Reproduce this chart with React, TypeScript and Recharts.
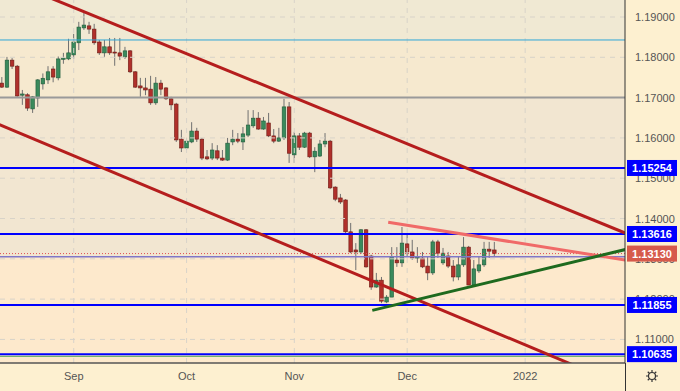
import React from "react";
import { ComposedChart, Bar, XAxis, YAxis, ReferenceLine, ReferenceArea } from "recharts";

// EUR/USD daily, Aug 12 - Dec 24 2021
const dates = [
  "2021-08-12", "2021-08-13", "2021-08-16", "2021-08-17", "2021-08-18", "2021-08-19", "2021-08-20",
  "2021-08-23", "2021-08-24", "2021-08-25", "2021-08-26", "2021-08-27", "2021-08-30", "2021-08-31",
  "2021-09-01", "2021-09-02", "2021-09-03", "2021-09-06", "2021-09-07", "2021-09-08", "2021-09-09",
  "2021-09-10", "2021-09-13", "2021-09-14", "2021-09-15", "2021-09-16", "2021-09-17", "2021-09-20",
  "2021-09-21", "2021-09-22", "2021-09-23", "2021-09-24", "2021-09-27", "2021-09-28", "2021-09-29",
  "2021-09-30", "2021-10-01", "2021-10-04", "2021-10-05", "2021-10-06", "2021-10-07", "2021-10-08",
  "2021-10-11", "2021-10-12", "2021-10-13", "2021-10-14", "2021-10-15", "2021-10-18", "2021-10-19",
  "2021-10-20", "2021-10-21", "2021-10-22", "2021-10-25", "2021-10-26", "2021-10-27", "2021-10-28",
  "2021-10-29", "2021-11-01", "2021-11-02", "2021-11-03", "2021-11-04", "2021-11-05", "2021-11-08",
  "2021-11-09", "2021-11-10", "2021-11-11", "2021-11-12", "2021-11-15", "2021-11-16", "2021-11-17",
  "2021-11-18", "2021-11-19", "2021-11-22", "2021-11-23", "2021-11-24", "2021-11-25", "2021-11-26",
  "2021-11-29", "2021-11-30", "2021-12-01", "2021-12-02", "2021-12-03", "2021-12-06", "2021-12-07",
  "2021-12-08", "2021-12-09", "2021-12-10", "2021-12-13", "2021-12-14", "2021-12-15", "2021-12-16",
  "2021-12-17", "2021-12-20", "2021-12-21", "2021-12-22", "2021-12-23", "2021-12-24",
];

const opens = [
  1.1736, 1.1726, 1.1793, 1.1778, 1.1706, 1.1707, 1.1672, 1.1699, 1.1734, 1.1744,
  1.1771, 1.1749, 1.1795, 1.1796, 1.1806, 1.1836, 1.1873, 1.1878, 1.1870, 1.1838,
  1.1811, 1.1826, 1.1813, 1.1811, 1.1801, 1.1816, 1.1764, 1.1729, 1.1724, 1.1721,
  1.1687, 1.1736, 1.1724, 1.1697, 1.1684, 1.1597, 1.1575, 1.1590, 1.1617, 1.1597,
  1.1553, 1.1550, 1.1568, 1.1550, 1.1545, 1.1590, 1.1597, 1.1590, 1.1607, 1.1630,
  1.1649, 1.1622, 1.1637, 1.1605, 1.1592, 1.1600, 1.1677, 1.1558, 1.1605, 1.1577,
  1.1612, 1.1553, 1.1555, 1.1585, 1.1592, 1.1478, 1.1451, 1.1446, 1.1367, 1.1322,
  1.1317, 1.1372, 1.1307, 1.1230, 1.1247, 1.1193, 1.1205, 1.1297, 1.1290, 1.1337,
  1.1317, 1.1302, 1.1302, 1.1282, 1.1265, 1.1342, 1.1290, 1.1307, 1.1282, 1.1255,
  1.1285, 1.1329, 1.1235, 1.1270, 1.1285, 1.1324, 1.1322,
];

const highs = [
  1.1751, 1.1801, 1.1798, 1.1781, 1.1719, 1.1711, 1.1704, 1.1746, 1.1760, 1.1778,
  1.1778, 1.1802, 1.1811, 1.1846, 1.1858, 1.1888, 1.1910, 1.1888, 1.1883, 1.1843,
  1.1843, 1.1848, 1.1848, 1.1848, 1.1826, 1.1818, 1.1766, 1.1749, 1.1749, 1.1754,
  1.1751, 1.1744, 1.1726, 1.1702, 1.1687, 1.1620, 1.1600, 1.1639, 1.1625, 1.1600,
  1.1570, 1.1587, 1.1582, 1.1570, 1.1600, 1.1620, 1.1612, 1.1627, 1.1669, 1.1669,
  1.1664, 1.1652, 1.1662, 1.1622, 1.1625, 1.1697, 1.1689, 1.1615, 1.1612, 1.1615,
  1.1615, 1.1577, 1.1595, 1.1612, 1.1595, 1.1480, 1.1461, 1.1448, 1.1389, 1.1339,
  1.1374, 1.1374, 1.1310, 1.1265, 1.1255, 1.1210, 1.1329, 1.1329, 1.1379, 1.1364,
  1.1347, 1.1329, 1.1317, 1.1305, 1.1347, 1.1347, 1.1327, 1.1317, 1.1297, 1.1305,
  1.1354, 1.1332, 1.1297, 1.1305, 1.1342, 1.1342, 1.1342,
];

const lows = [
  1.1724, 1.1724, 1.1771, 1.1702, 1.1682, 1.1667, 1.1662, 1.1677, 1.1720, 1.1734,
  1.1738, 1.1743, 1.1784, 1.1793, 1.1796, 1.1818, 1.1868, 1.1858, 1.1831, 1.1806,
  1.1801, 1.1806, 1.1779, 1.1793, 1.1796, 1.1761, 1.1724, 1.1702, 1.1706, 1.1682,
  1.1682, 1.1706, 1.1694, 1.1669, 1.1590, 1.1565, 1.1570, 1.1587, 1.1590, 1.1545,
  1.1545, 1.1545, 1.1545, 1.1543, 1.1543, 1.1582, 1.1587, 1.1570, 1.1602, 1.1625,
  1.1620, 1.1620, 1.1602, 1.1587, 1.1590, 1.1595, 1.1538, 1.1538, 1.1570, 1.1575,
  1.1550, 1.1515, 1.1553, 1.1577, 1.1473, 1.1443, 1.1436, 1.1364, 1.1314, 1.1272,
  1.1312, 1.1278, 1.1223, 1.1228, 1.1190, 1.1190, 1.1205, 1.1280, 1.1280, 1.1307,
  1.1297, 1.1290, 1.1277, 1.1247, 1.1260, 1.1302, 1.1285, 1.1277, 1.1244, 1.1247,
  1.1280, 1.1235, 1.1230, 1.1265, 1.1280, 1.1302, 1.1305,
];

const closes = [
  1.1726, 1.1793, 1.1778, 1.1704, 1.1709, 1.1674, 1.1702, 1.1744, 1.1748, 1.1764,
  1.1751, 1.1796, 1.1798, 1.1811, 1.1838, 1.1875, 1.1880, 1.1870, 1.1836, 1.1811,
  1.1826, 1.1811, 1.1811, 1.1803, 1.1816, 1.1764, 1.1726, 1.1724, 1.1719, 1.1687,
  1.1736, 1.1721, 1.1697, 1.1682, 1.1595, 1.1575, 1.1592, 1.1617, 1.1597, 1.1550,
  1.1548, 1.1570, 1.1550, 1.1545, 1.1587, 1.1597, 1.1592, 1.1610, 1.1632, 1.1649,
  1.1622, 1.1642, 1.1605, 1.1592, 1.1600, 1.1677, 1.1562, 1.1605, 1.1577, 1.1612,
  1.1553, 1.1567, 1.1585, 1.1592, 1.1476, 1.1448, 1.1441, 1.1367, 1.1317, 1.1317,
  1.1372, 1.1280, 1.1230, 1.1247, 1.1195, 1.1205, 1.1305, 1.1290, 1.1339, 1.1317,
  1.1302, 1.1305, 1.1280, 1.1265, 1.1342, 1.1314, 1.1314, 1.1282, 1.1255, 1.1285,
  1.1329, 1.1235, 1.1275, 1.1285, 1.1324, 1.1319, 1.1313,
];

// x axis: bar index, months start at these bars
const monthTicks = [14, 36, 57, 79, 102];
const monthLabels = ["Sep", "Oct", "Nov", "Dec", "2022"];

const priceTicks = [1.11, 1.12, 1.13, 1.14, 1.15, 1.16, 1.17, 1.18, 1.19];
const blueLevels = [1.15254, 1.13616, 1.11855, 1.10635];
const lastPrice = 1.1313;
const cyanLevel = 1.1843;
const grayLevel = 1.17;
const violetLevel = 1.1305;
const greenLevel = 1.1058;

// trend lines: [bar index, price] pairs
const trendLines = [
  { a: [-10.1, 1.2049], b: [121.5, 1.1364], color: "#b51d1d" },
  { a: [-4.3, 1.1653], b: [124.4, 1.0967], color: "#b51d1d" },
  { a: [75.3, 1.1391], b: [121.5, 1.1297], color: "#f06a68" },
  { a: [72.2, 1.1172], b: [121.5, 1.1323], color: "#1e6a1e" },
];

const data = dates.map((d, i) => ({
  i,
  date: d,
  open: opens[i],
  high: highs[i],
  low: lows[i],
  close: closes[i],
  range: [lows[i], highs[i]],
}));

const xDomain = [-0.37, 121.46];
const yDomain = [1.10415, 1.19422];

const Candle = (props: any) => {
  const { x, y, width, height, payload } = props;
  if (!payload || payload.open == null) return null;
  const { open, close, high, low } = payload;
  const top = Math.min(y, y + height);
  const h = Math.abs(height);
  const ratio = h / (high - low);
  const cx = x + width / 2;
  const up = close >= open;
  const bTop = top + (high - Math.max(open, close)) * ratio;
  const bBot = top + (high - Math.min(open, close)) * ratio;
  return (
    <g>
      <line x1={cx} x2={cx} y1={top} y2={top + h} stroke="#707070" strokeWidth={1} />
      <rect
        x={cx - 1.8}
        y={bTop}
        width={3.6}
        height={Math.max(1, bBot - bTop)}
        fill={up ? "#3a8a5c" : "#b0302b"}
        stroke={up ? "#1f5a3a" : "#6e1a14"}
        strokeWidth={0.6}
      />
    </g>
  );
};

const PriceTick = (props: any) => {
  const { y, payload } = props;
  const v = payload.value;
  const isBox = blueLevels.includes(v) || v === lastPrice;
  if (isBox) {
    return (
      <g>
        <rect x={627} y={y - 8} width={50} height={16} fill={v === lastPrice ? "#d65a4b" : "#0000ff"} />
        <text x={652} y={y + 4} textAnchor="middle" fill="#fff" fontSize={11} fontWeight="bold">
          {v.toFixed(5)}
        </text>
      </g>
    );
  }
  return (
    <text x={635} y={y + 4} fill="#555" fontSize={11}>
      {v.toFixed(5)}
    </text>
  );
};

const MonthTick = (props: any) => {
  const { x, payload } = props;
  const idx = monthTicks.indexOf(payload.value);
  return (
    <text x={x} y={380} textAnchor="middle" fill="#555" fontSize={11}>
      {monthLabels[idx]}
    </text>
  );
};

export default function App() {
  return (
    <div
      style={{
        position: "absolute",
        left: 0,
        top: 0,
        width: 680,
        height: 391,
        background: "#fdf0d0",
        fontFamily: "'Liberation Sans', Arial, sans-serif",
      }}
    >
      <ComposedChart width={680} height={391} data={data} margin={{ top: 0, right: 0, bottom: 0, left: 0 }}>
        <XAxis
          type="number"
          dataKey="i"
          domain={xDomain}
          allowDataOverflow
          ticks={monthTicks}
          interval={0}
          tick={<MonthTick />}
          tickLine={false}
          axisLine={{ stroke: "#555", strokeWidth: 1.5 }}
          height={28}
        />
        <YAxis
          orientation="right"
          domain={yDomain}
          allowDataOverflow
          ticks={[...priceTicks, ...blueLevels, lastPrice]}
          interval={0}
          tick={<PriceTick />}
          tickLine={false}
          axisLine={{ stroke: "#333" }}
          width={55}
        />

        {/* background bands */}
        <ReferenceArea y1={cyanLevel} y2={yDomain[1]} fill="#f0e9d3" fillOpacity={1} stroke="none" ifOverflow="hidden" />
        <ReferenceArea y1={grayLevel} y2={cyanLevel} fill="#f6e9cf" fillOpacity={1} stroke="none" ifOverflow="hidden" />
        <ReferenceArea y1={violetLevel} y2={grayLevel} fill="#f2e6d1" fillOpacity={1} stroke="none" ifOverflow="hidden" />
        <ReferenceArea y1={yDomain[0]} y2={violetLevel} fill="#fde9cc" fillOpacity={1} stroke="none" ifOverflow="hidden" />

        {/* grid */}
        {priceTicks.map((p) => (
          <ReferenceLine key={"g" + p} y={p} stroke="#d8d3c9" strokeDasharray="5 5" />
        ))}
        {monthTicks.map((t) => (
          <ReferenceLine key={"v" + t} x={t} stroke="#d8d3c9" strokeDasharray="5 5" />
        ))}

        <ReferenceLine y={cyanLevel} stroke="#2ea6d8" strokeWidth={1} />
        <ReferenceLine y={grayLevel} stroke="#9a9a9a" strokeWidth={2} />
        <ReferenceLine y={violetLevel} stroke="#7f77c8" strokeWidth={1.5} />
        <ReferenceLine y={greenLevel} stroke="#5aa85a" strokeWidth={1} />
        <ReferenceLine y={lastPrice} stroke="#e05050" strokeDasharray="1 2" strokeWidth={1} />
        {blueLevels.map((p) => (
          <ReferenceLine key={"b" + p} y={p} stroke="#0000ff" strokeWidth={2} />
        ))}

        <Bar dataKey="range" barSize={5} shape={<Candle />} isAnimationActive={false} />

        {trendLines.map((t, k) => (
          <ReferenceLine
            key={"t" + k}
            segment={[
              { x: t.a[0], y: t.a[1] },
              { x: t.b[0], y: t.b[1] },
            ]}
            stroke={t.color}
            strokeWidth={3}
            ifOverflow="hidden"
          />
        ))}
      </ComposedChart>
      <div style={{ position: "absolute", left: 625, top: 363, width: 1, height: 28, background: "#333" }} />
      <svg style={{ position: "absolute", left: 645, top: 369 }} width={14} height={14}>
        <circle cx={7} cy={7} r={3.5} fill="none" stroke="#333" strokeWidth={1.2} />
        {[0, 45, 90, 135, 180, 225, 270, 315].map((a) => (
          <line
            key={a}
            x1={7 + 4 * Math.cos((a * Math.PI) / 180)}
            y1={7 + 4 * Math.sin((a * Math.PI) / 180)}
            x2={7 + 6 * Math.cos((a * Math.PI) / 180)}
            y2={7 + 6 * Math.sin((a * Math.PI) / 180)}
            stroke="#333"
            strokeWidth={1.2}
          />
        ))}
      </svg>
    </div>
  );
}
